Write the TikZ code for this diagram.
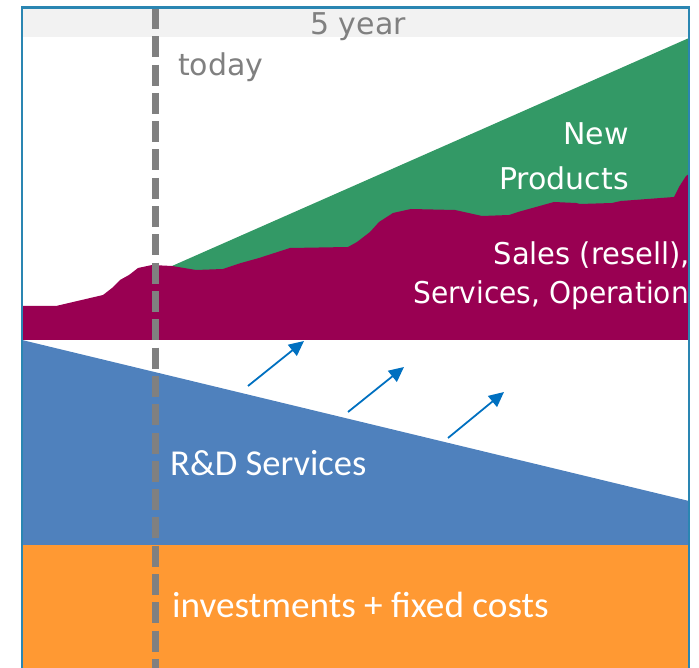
\documentclass[tikz,border=0pt]{standalone}
\usepackage{fontspec}
\setmainfont{Carlito}
\newfontfamily\dv{DejaVu Sans}
\usetikzlibrary{arrows.meta}
\definecolor{frameblue}{RGB}{42,134,178}
\definecolor{bandgray}{RGB}{242,242,242}
\definecolor{txtgray}{RGB}{128,128,128}
\definecolor{prodgreen}{RGB}{51,153,102}
\definecolor{salesmaroon}{RGB}{153,0,82}
\definecolor{rdblue}{RGB}{79,129,189}
\definecolor{costorange}{RGB}{255,153,51}
\definecolor{arrowblue}{RGB}{0,112,192}
\tikzset{
  graylabel/.style={text=txtgray, font=\dv\fontsize{30}{36}\selectfont, inner sep=0pt},
  whitelabel/.style={text=white, font=\dv\fontsize{30}{36}\selectfont, inner sep=0pt},
  calilabel/.style={text=white, font=\fontsize{36.5}{42}\selectfont, inner sep=0pt},
  flowarrow/.style={draw=arrowblue, line width=1.8pt, -{Triangle[length=15pt,width=14pt]}},
  todayline/.style={draw=txtgray, line width=7pt, dash pattern=on 21pt off 7.3pt}
}
\begin{document}
\begin{tikzpicture}[x=1pt,y=-1pt]
\useasboundingbox (0,0) rectangle (699,668);
\begin{scope}
\clip (22,7.5) rectangle (689,668);
% gray header band
\fill[bandgray] (22,7.5) rectangle (689,37.5);
% green: new products
\fill[prodgreen] (172,266) -- (689,38) -- (689,340) -- (172,340) -- cycle;
% maroon: sales
\fill[salesmaroon] (22,306) -- (56,306) -- (103,295) -- (112,288) -- (120,280) -- (129,275)
  -- (138,268) -- (152,265) -- (172,266) -- (196,270) -- (223,269) -- (241,263)
  -- (259,258) -- (290,248) -- (348,247) -- (357,242) -- (370,232) -- (379,222)
  -- (393,213) -- (411,209) -- (455,210) -- (482,216) -- (509,215) -- (518,212)
  -- (554,202) -- (576,203) -- (580,204) -- (612,203) -- (621,201) -- (674,197)
  -- (679,187) -- (686,176) -- (689,174) -- (689,340) -- (22,340) -- cycle;
% blue: R&D
\fill[rdblue] (22,340) -- (689,501) -- (689,545) -- (22,545) -- cycle;
% orange: costs
\fill[costorange] (22,545) rectangle (689,668);
% texts
\node[whitelabel, anchor=base east] (new) at (629,145) {New};
\node[whitelabel, anchor=base east] (products) at (629,190) {Products};
\node[whitelabel, anchor=base east] (sales) at (690,265) {\scalebox{0.965}[1]{Sales (resell),}};
\node[whitelabel, anchor=base west] (services) at (413,304) {\scalebox{0.935}[1]{Services, Operation}};
\node[calilabel, anchor=base west] (rd) at (170,475) {R\&D Services};
\node[calilabel, anchor=base west] (costs) at (172,617) {\scalebox{1.02}[1]{investments + fixed costs}};
\end{scope}
% arrows
\coordinate (a1s) at (248,386); \coordinate (a1e) at (304,341);
\coordinate (a2s) at (348,412); \coordinate (a2e) at (404,367);
\coordinate (a3s) at (448,438); \coordinate (a3e) at (504,392);
\draw[flowarrow] (a1s) -- (a1e);
\draw[flowarrow] (a2s) -- (a2e);
\draw[flowarrow] (a3s) -- (a3e);
% today line
\coordinate (lt) at (155,8); \coordinate (lb) at (155,668);
\draw[todayline] (lt) -- (lb);
\node[graylabel, anchor=base] (fiveyear) at (358,35) {5 year};
\node[graylabel, anchor=base west] (today) at (178,76) {today};
% frame
\draw[frameblue, line width=2.2pt] (22,668) -- (22,7.5) -- (689,7.5) -- (689,668);
\end{tikzpicture}
\end{document}
